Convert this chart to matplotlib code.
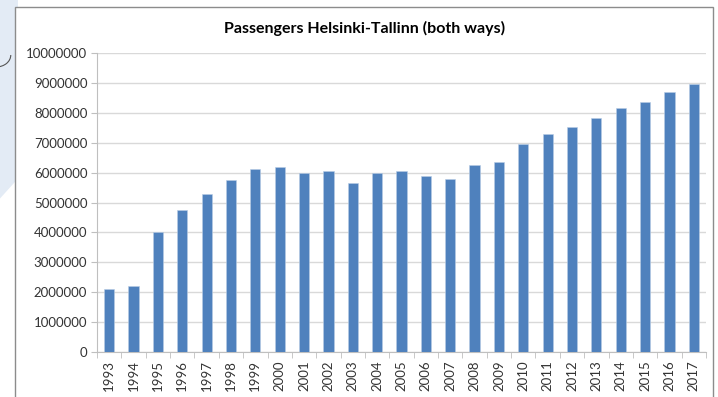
import numpy as np
import matplotlib.pyplot as plt
from matplotlib.patches import Rectangle, Polygon, Arc

plt.rcParams["font.family"] = ["Lato", "DejaVu Sans"]

# passengers per year, both directions
years = [str(y) for y in range(1993, 2018)]
passengers = [2120000, 2200000, 4020000, 4750000, 5300000, 5750000, 6120000,
              6200000, 5990000, 6050000, 5650000, 5990000, 6070000, 5870000,
              5790000, 6270000, 6350000, 6950000, 7300000, 7540000, 7840000,
              8150000, 8370000, 8710000, 8970000]
y_ticks = list(range(0, 10000001, 1000000))

fig = plt.figure(figsize=(7.18, 3.97), dpi=100)

# pale slide decoration behind the chart frame
fig.patches.append(Polygon([[0, 0.50], [0.025, 0.55], [0.025, 1.0], [0, 1.0]],
                           closed=True, transform=fig.transFigure,
                           facecolor="#E3EBF5", edgecolor="none", zorder=0))
fig.patches.append(Arc((-0.005, 1 - 55 / 397), 0.04, 0.06, theta1=270, theta2=360,
                       transform=fig.transFigure, color="#555555",
                       linewidth=0.8, zorder=0))
fig.patches.append(Rectangle((15 / 718, -0.01), 698 / 718, 1 - 7 / 397 + 0.01,
                             transform=fig.transFigure, facecolor="white",
                             edgecolor="#8C8C8C", linewidth=1.0, zorder=1))

ax = fig.add_axes([97 / 718, 1 - 352 / 397, 609 / 718, 299 / 397])
ax.set_zorder(2)
ax.patch.set_alpha(0)

x = np.arange(len(years))
ax.bar(x, passengers, width=0.42, color="#4F81BD", edgecolor="#B9CDE5",
       linewidth=0.4, zorder=3)

ax.set_xlim(-0.5, len(years) - 0.5)
ax.set_ylim(0, 10000000)
ax.set_yticks(y_ticks)
ax.set_yticklabels([str(v) for v in y_ticks], fontsize=9.5, color="#333333")
ax.yaxis.grid(True, color="#D9D9D9", linewidth=1.0, zorder=0)
ax.set_axisbelow(True)

ax.set_xticks(x)
ax.set_xticklabels(years, rotation=90, fontsize=9.5, color="#333333")
ax.set_xticks(np.arange(-0.5, len(years)), minor=True)
ax.tick_params(axis="x", which="major", length=0, pad=6)
ax.tick_params(axis="x", which="minor", length=4, color="#BFBFBF", direction="out")
ax.tick_params(axis="y", length=4, color="#BFBFBF", pad=3)

for side in ["top", "right"]:
    ax.spines[side].set_visible(False)
ax.spines["left"].set_color("#BFBFBF")
ax.spines["bottom"].set_color("#BFBFBF")

fig.text(365 / 718, 1 - 28 / 397, "Passengers Helsinki-Tallinn (both ways)",
         ha="center", va="center", fontsize=11.5, fontweight="bold", zorder=3)

fig.savefig("out.png", dpi=100)
